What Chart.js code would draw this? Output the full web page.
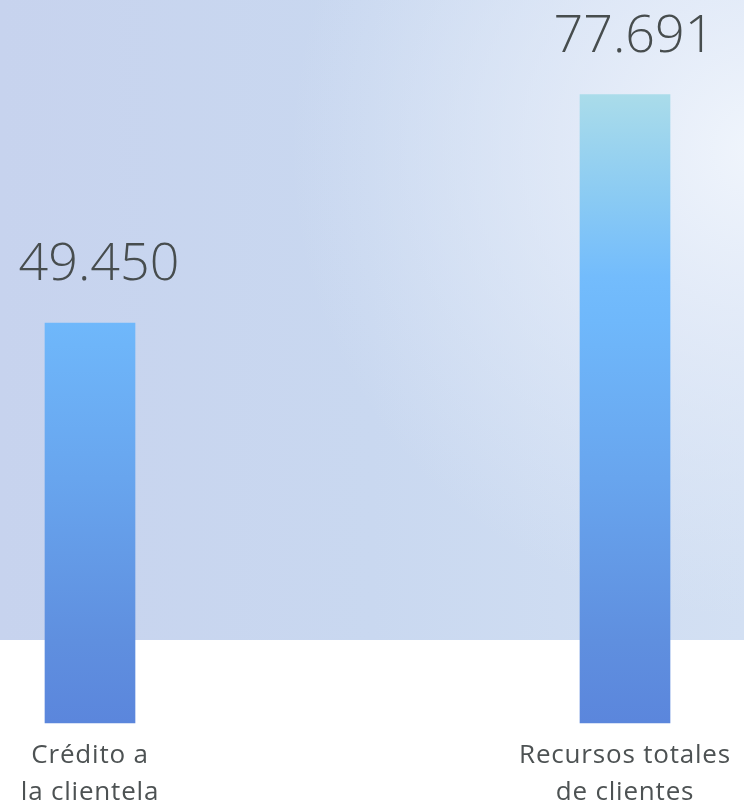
<!DOCTYPE html>
<html lang="es">
<head>
    <meta charset="utf-8">
    <title>Crédito y recursos de clientes</title>
    <script src="https://cdn.jsdelivr.net/npm/chart.js"></script>
    <style>
        html, body {
          margin: 0;
          padding: 0;
          overflow: hidden;
          background: #ffffff;
        }
        #wrap {
          position: relative;
          width: 744px;
          height: 825px;
        }
      </style>
</head>
<body>
    <div id="wrap">
        <canvas id="myChart"></canvas>
    </div>
    <script>
        // data
        var categories = [["Crédito a", "la clientela"], ["Recursos totales", "de clientes"]];
        var values = [49450, 77691];
        var yMax = 80000;

        function formatNumber(n) {
            return String(n).replace(/\B(?=(\d{3})+(?!\d))/g, ".");
        }

        // soft blue backdrop behind the upper part of the chart
        var backdrop = {
            id: 'backdrop',
            beforeDraw: function (chart) {
                var c = chart.ctx;
                var w = chart.width;
                var h = 640;
                c.save();
                var lin = c.createLinearGradient(0, 0, w, 0);
                lin.addColorStop(0, '#c7d3ee');
                lin.addColorStop(0.5, '#c9d8f0');
                lin.addColorStop(1, '#d3e0f3');
                c.fillStyle = lin;
                c.fillRect(0, 0, w, h);
                var rad = c.createRadialGradient(760, 150, 0, 760, 150, 470);
                rad.addColorStop(0, 'rgba(240,245,252,1)');
                rad.addColorStop(0.4, 'rgba(230,237,249,0.75)');
                rad.addColorStop(1, 'rgba(225,234,248,0)');
                c.fillStyle = rad;
                c.fillRect(0, 0, w, h);
                c.restore();
                // slightly spaced lettering for the category labels
                c.letterSpacing = '0.8px';
            },
            afterDraw: function (chart) {
                chart.ctx.letterSpacing = '0px';
            }
        };

        // value labels above each bar
        var valueLabels = {
            id: 'valueLabels',
            afterDatasetsDraw: function (chart) {
                var c = chart.ctx;
                var meta = chart.getDatasetMeta(0);
                c.save();
                c.letterSpacing = '0px';
                c.font = '300 52px "Open Sans", Lato, sans-serif';
                c.fillStyle = '#474d4e';
                c.textAlign = 'center';
                c.textBaseline = 'alphabetic';
                meta.data.forEach(function (bar, i) {
                    c.fillText(formatNumber(values[i]), bar.x + 9, bar.y - 43);
                });
                c.restore();
            }
        };

        function barGradient(context) {
            var chart = context.chart;
            var yScale = chart.scales.y;
            if (!chart.chartArea || !yScale) return '#6cb0f6';
            var y0 = yScale.getPixelForValue(0);
            var y1 = yScale.getPixelForValue(Math.max.apply(null, values));
            if (!isFinite(y0) || !isFinite(y1)) return '#6cb0f6';
            var g = chart.ctx.createLinearGradient(0, y0, 0, y1);
            g.addColorStop(0, '#5b86dc');
            g.addColorStop(0.13, '#5f8fdf');
            g.addColorStop(0.39, '#68a5ee');
            g.addColorStop(0.64, '#6fb8fb');
            g.addColorStop(0.71, '#73bcfc');
            g.addColorStop(0.84, '#8bcbf3');
            g.addColorStop(1, '#aadcea');
            return g;
        }

        var ctx = document.getElementById("myChart").getContext('2d');
        var myChart = new Chart(ctx, {
            type: 'bar',
            data: {
                labels: categories,
                datasets: [{
                    data: values,
                    backgroundColor: barGradient,
                    borderWidth: 0,
                    barThickness: 90,
                    clip: false
                }]
            },
            options: {
                responsive: true,
                maintainAspectRatio: false,
                animation: false,
                layout: {
                    padding: { top: 76, left: 90, right: 119, bottom: 0 }
                },
                plugins: {
                    legend: { display: false },
                    tooltip: { enabled: false }
                },
                scales: {
                    x: {
                        offset: false,
                        grid: { display: false, drawTicks: false, tickLength: 0 },
                        border: { display: false },
                        ticks: {
                            autoSkip: false,
                            maxRotation: 0,
                            minRotation: 0,
                            padding: 14,
                            color: '#4d5253',
                            font: { family: '"Open Sans", Lato, sans-serif', size: 26, weight: '400', lineHeight: '37px' }
                        }
                    },
                    y: {
                        display: false,
                        min: 0,
                        max: yMax
                    }
                }
            },
            plugins: [backdrop, valueLabels]
        });
    </script>
</body>
</html>
